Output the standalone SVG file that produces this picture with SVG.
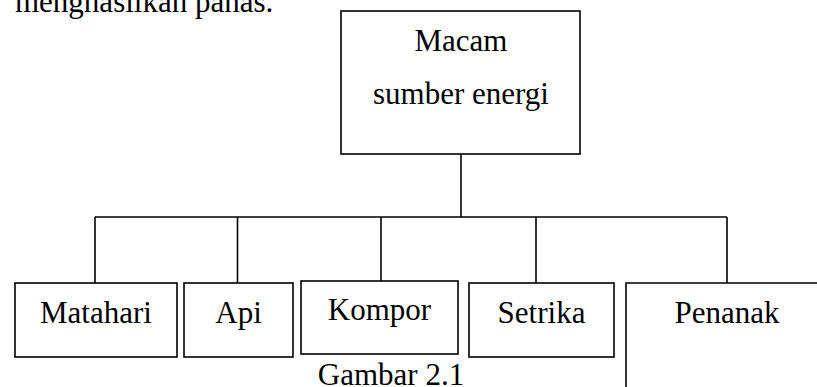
<svg xmlns="http://www.w3.org/2000/svg" width="817" height="387" viewBox="0 0 817 387">
  <style>
    .box { fill: #ffffff; stroke: #000000; stroke-width: 1.6; }
    .wire { fill: none; stroke: #000000; stroke-width: 1.6; }
    text { font-family: "Liberation Serif", "Times New Roman", serif; font-size: 31px; fill: #000000; }
    .c { text-anchor: middle; }
  </style>
  <rect width="817" height="387" fill="#ffffff"/>

  <!-- paragraph tail above the chart -->
  <text x="15" y="12">menghasilkan panas.</text>

  <!-- tree connectors -->
  <g id="connectors" class="wire">
    <line x1="461" y1="154" x2="461" y2="217"/>
    <line x1="95" y1="217" x2="727" y2="217"/>
    <line x1="95" y1="217" x2="95" y2="283"/>
    <line x1="237.5" y1="217" x2="237.5" y2="283"/>
    <line x1="381" y1="217" x2="381" y2="281"/>
    <line x1="536" y1="217" x2="536" y2="283"/>
    <line x1="727" y1="217" x2="727" y2="283"/>
  </g>

  <g id="root">
    <rect class="box" x="341" y="11" width="239" height="143"/>
    <text class="c" x="461" y="51">Macam</text>
    <text class="c" x="461" y="104">sumber energi</text>
  </g>

  <g id="matahari">
    <rect class="box" x="15" y="283" width="162" height="74"/>
    <text class="c" x="96" y="323">Matahari</text>
  </g>

  <g id="api">
    <rect class="box" x="184" y="283" width="109" height="74"/>
    <text class="c" x="238.5" y="323">Api</text>
  </g>

  <g id="kompor">
    <rect class="box" x="301" y="281" width="157" height="73"/>
    <text class="c" x="379.5" y="320">Kompor</text>
  </g>

  <g id="setrika">
    <rect class="box" x="469" y="283" width="145" height="74"/>
    <text class="c" x="541.5" y="323">Setrika</text>
  </g>

  <g id="penanak">
    <path class="wire" d="M626,400 V283 H830"/>
    <text class="c" x="727" y="323">Penanak</text>
  </g>

  <text class="c" x="391" y="385">Gambar 2.1</text>
</svg>
